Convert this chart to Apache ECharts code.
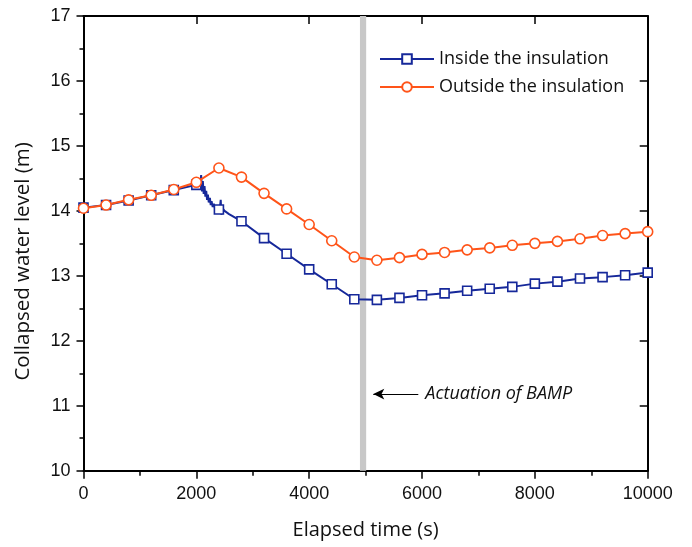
<!DOCTYPE html>
<html>
<head>
<meta charset="utf-8">
<script src="https://cdn.jsdelivr.net/npm/echarts@6/dist/echarts.min.js"></script>
<style>
  html, body { margin: 0; padding: 0; background: #fff; }
  #chart { width: 692px; height: 547px; }
</style>
</head>
<body>
<div id="chart"></div>
<script>
const myChart = echarts.init(document.getElementById('chart'));

// inside the insulation (with the noisy part around 2000-2700 s)
const insideTime = [
  0, 400, 800, 1200, 1600, 2000,
  2030, 2050, 2070, 2085, 2100, 2115, 2130, 2145, 2160, 2175, 2190, 2205, 2220, 2240,
  2255, 2270, 2290, 2310, 2330, 2350, 2370,
  2400, 2420, 2432, 2444, 2465, 2500, 2580, 2680,
  2800, 3200, 3600, 4000, 4400, 4800, 5200, 5600, 6000, 6400, 6800, 7200, 7600,
  8000, 8400, 8800, 9200, 9600, 10000
];
const insideLevel = [
  14.05, 14.09, 14.16, 14.24, 14.32, 14.40,
  14.44, 14.50, 14.36, 14.55, 14.30, 14.46, 14.26, 14.38, 14.22, 14.31, 14.17, 14.25, 14.13, 14.20,
  14.09, 14.15, 14.06, 14.11, 14.04, 14.08, 14.04,
  14.02, 14.07, 14.17, 13.94, 14.04, 14.00, 13.95, 13.90,
  13.84, 13.58, 13.34, 13.10, 12.87, 12.64, 12.63, 12.66, 12.70, 12.73, 12.77, 12.80, 12.83,
  12.88, 12.91, 12.96, 12.98, 13.01, 13.05
];

const outsideTime = [
  0, 400, 800, 1200, 1600, 2000, 2400, 2800, 3200, 3600, 4000, 4400, 4800,
  5200, 5600, 6000, 6400, 6800, 7200, 7600, 8000, 8400, 8800, 9200, 9600, 10000
];
const outsideLevel = [
  14.04, 14.09, 14.17, 14.24, 14.33, 14.44, 14.66, 14.52, 14.27, 14.03, 13.79, 13.54, 13.29,
  13.24, 13.28, 13.33, 13.36, 13.40, 13.43, 13.47, 13.50, 13.53, 13.57, 13.62, 13.65, 13.68
];

const bampBand = [4900, 5010];
const bampArrow = [[5136, 11.18], [5934, 11.18]];

const blue = '#16289A';
const orange = '#FF5419';
const tickFont = '"Liberation Sans", Arial, sans-serif';
const titleFont = '"Open Sans", sans-serif';

const insideData = insideTime.map((t, i) => {
  const item = { value: [t, insideLevel[i]] };
  if (t % 400 !== 0) item.symbol = 'none';
  return item;
});
const outsideData = outsideTime.map((t, i) => [t, outsideLevel[i]]);

const axisLine = { show: true, onZero: false, lineStyle: { color: '#000', width: 2 } };

const option = {
  animation: false,
  grid: { left: 83.5, right: 44.3, top: 16, bottom: 76.3 },
  legend: {
    orient: 'vertical',
    left: 374,
    top: 45,
    itemWidth: 54,
    itemHeight: 12,
    itemGap: 10,
    textStyle: { fontFamily: titleFont, fontSize: 18, color: '#111' },
    data: ['Inside the insulation', 'Outside the insulation'],
  },
  xAxis: [
    {
      type: 'value',
      min: 0,
      max: 10000,
      interval: 2000,
      name: 'Elapsed time (s)',
      nameLocation: 'middle',
      nameGap: 50,
      nameTextStyle: { fontFamily: titleFont, fontSize: 20, color: '#111' },
      axisLine: axisLine,
      axisTick: { show: true, inside: false, length: 8, lineStyle: { color: '#000', width: 1.5 } },
      minorTick: { show: true, splitNumber: 2, length: 5, lineStyle: { color: '#000', width: 1.5 } },
      axisLabel: {
        fontFamily: tickFont,
        fontSize: 18,
        color: '#111',
        margin: 14,
        formatter: (value) => String(value),
      },
      splitLine: { show: false },
    },
    {
      type: 'value',
      position: 'top',
      min: 0,
      max: 10000,
      interval: 2000,
      axisLine: axisLine,
      axisTick: { show: true, inside: true, length: 8, lineStyle: { color: '#000', width: 1.5 } },
      axisLabel: { show: false },
      splitLine: { show: false },
    },
  ],
  yAxis: [
    {
      type: 'value',
      min: 10,
      max: 17,
      interval: 1,
      name: 'Collapsed water level (m)',
      nameLocation: 'middle',
      nameGap: 50,
      nameTextStyle: {
        fontFamily: titleFont,
        fontSize: 20.5,
        color: '#111',
        padding: [0, 36, 0, 0],
      },
      axisLine: axisLine,
      axisTick: { show: true, inside: false, length: 7, lineStyle: { color: '#000', width: 1.5 } },
      minorTick: { show: true, splitNumber: 2, length: 4, lineStyle: { color: '#000', width: 1.5 } },
      axisLabel: { fontFamily: tickFont, fontSize: 18, color: '#111', margin: 13 },
      splitLine: { show: false },
    },
    {
      type: 'value',
      position: 'right',
      min: 10,
      max: 17,
      interval: 1,
      axisLine: axisLine,
      axisTick: { show: true, inside: true, length: 8, lineStyle: { color: '#000', width: 1.5 } },
      axisLabel: { show: false },
      splitLine: { show: false },
    },
  ],
  series: [
    {
      name: 'Inside the insulation',
      type: 'line',
      data: insideData,
      symbol: 'rect',
      symbolSize: 9,
      showAllSymbol: true,
      color: blue,
      lineStyle: { color: blue, width: 2 },
      itemStyle: { color: '#fff', borderColor: blue, borderWidth: 1.6 },
      markArea: {
        silent: true,
        itemStyle: { color: '#c8c8c8' },
        data: [[{ xAxis: bampBand[0] }, { xAxis: bampBand[1] }]],
      },
      z: 2,
    },
    {
      name: 'Outside the insulation',
      type: 'line',
      data: outsideData,
      symbol: 'circle',
      symbolSize: 10,
      showAllSymbol: true,
      color: orange,
      lineStyle: { color: orange, width: 2 },
      itemStyle: { color: '#fff', borderColor: orange, borderWidth: 1.6 },
      markLine: {
        silent: true,
        symbol: ['arrow', 'none'],
        symbolSize: [8, 11],
        lineStyle: { color: '#000', width: 1.2, type: 'solid' },
        label: {
          show: true,
          position: 'end',
          distance: 7,
          formatter: 'Actuation of BAMP',
          fontFamily: titleFont,
          fontStyle: 'italic',
          fontSize: 18,
          color: '#111',
        },
        data: [[{ coord: bampArrow[0] }, { coord: bampArrow[1] }]],
      },
      z: 3,
    },
  ],
};

myChart.setOption(option);
</script>
</body>
</html>
